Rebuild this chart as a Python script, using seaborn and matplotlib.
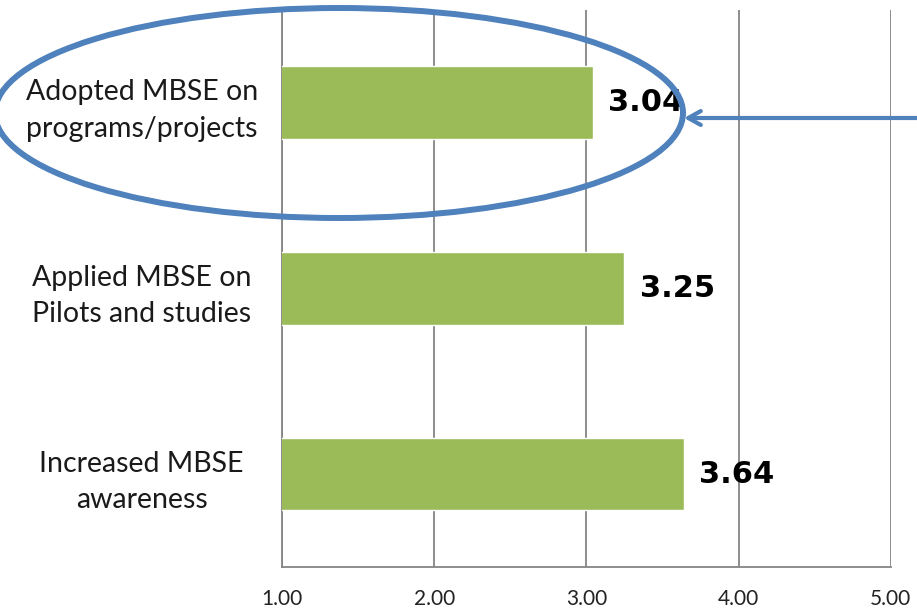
import matplotlib
matplotlib.use("Agg")
import matplotlib.pyplot as plt
from matplotlib.patches import Ellipse
import seaborn as sns
import pandas as pd

# data
categories = ["Adopted MBSE on\nprograms/projects",
              "Applied MBSE on\nPilots and studies",
              "Increased MBSE\nawareness"]
scores = [3.04, 3.25, 3.64]
x_ticks = [1.0, 2.0, 3.0, 4.0, 5.0]

df = pd.DataFrame({"category": categories, "score": scores})

sns.set_style("white")
plt.rcParams["font.family"] = ["Lato", "DejaVu Sans"]

fig = plt.figure(figsize=(9.17, 6.13), dpi=100)
ax = fig.add_axes([0.3075, 0.075, 0.664, 0.909])

sns.barplot(data=df, x="score", y="category", orient="h", color="#9BBB59",
            saturation=1, width=0.39, ax=ax, zorder=3)

ax.set_xlim(x_ticks[0], x_ticks[-1])
ax.set_ylim(len(categories) - 0.5, -0.5)
ax.set_xticks(x_ticks)
ax.set_xticklabels([f"{t:.2f}" for t in x_ticks], fontsize=15, color="#222222")
ax.grid(axis="x", color="#858585", lw=1.3, zorder=0)
ax.set_axisbelow(True)

# category ticks sit between the bars, like Excel
ax.set_yticks(range(len(categories)))
ax.set_yticklabels(categories, fontsize=20.5, color="#1a1a1a", linespacing=1.5,
                   ha="center")
ax.tick_params(axis="y", length=0, pad=101)
ax.set_yticks([i + 0.5 for i in range(-1, len(categories))], minor=True)
ax.tick_params(axis="y", which="minor", length=10, width=1.3, color="#858585",
               direction="out")
ax.tick_params(axis="x", length=7, width=1.3, color="#858585", direction="out",
               pad=9)

ax.set_xlabel("")
ax.set_ylabel("")
for side in ["top", "right"]:
    ax.spines[side].set_visible(False)
for side in ["left", "bottom"]:
    ax.spines[side].set_color("#858585")
    ax.spines[side].set_linewidth(1.3)

for i, v in enumerate(scores):
    ax.text(v + 0.1, i, f"{v:.2f}", va="center", ha="left", fontsize=22,
            fontweight="bold", family=["DejaVu Sans"], color="black", zorder=4)

# highlight of the first category
ring = Ellipse((339 / 917, 1 - 113 / 613), 688 / 917, 210 / 613,
               transform=fig.transFigure, fill=False, edgecolor="#4F81BD",
               lw=4.3, zorder=10)
fig.add_artist(ring)
arrow_y = 1 - 118 / 613
ax.annotate("", xy=(684 / 917, arrow_y), xycoords="figure fraction",
            xytext=(1.0, arrow_y), textcoords="figure fraction",
            arrowprops=dict(arrowstyle="->,head_length=0.9,head_width=0.5",
                            color="#4F81BD", lw=3, shrinkA=0, shrinkB=0),
            annotation_clip=False, zorder=10)

fig.savefig("out.png", dpi=100)
